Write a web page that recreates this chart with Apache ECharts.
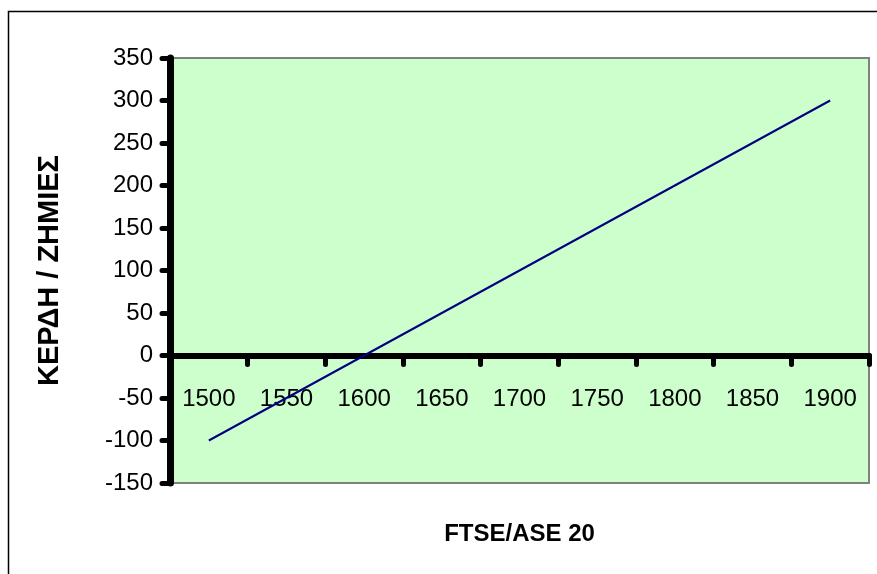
<!DOCTYPE html>
<html>
<head>
<meta charset="utf-8">
<script src="https://cdn.jsdelivr.net/npm/echarts@6/dist/echarts.min.js"></script>
<style>
  html, body { margin: 0; padding: 0; background: #fff; }
  #chart { width: 877px; height: 574px; }
</style>
</head>
<body>
<div id="chart"></div>
<script>
  // FTSE/ASE 20 levels and profit / loss
  var indexLevels = ['1500', '1550', '1600', '1650', '1700', '1750', '1800', '1850', '1900'];
  var profitLoss = [-100, -50, 0, 50, 100, 150, 200, 250, 300];
  var yMin = -150, yMax = 350;

  var font = "'Liberation Sans', Arial, sans-serif";
  var gridTop = 58, gridHeight = 425;
  // move the category axis up to the y = 0 line
  var zeroOffset = gridHeight * (0 - yMin) / (yMax - yMin);

  var chart = echarts.init(document.getElementById('chart'));
  chart.setOption({
    animation: false,
    backgroundColor: '#ffffff',
    graphic: [{
      type: 'rect',
      shape: { x: 8.5, y: 11.5, width: 900, height: 600 },
      style: { fill: 'none', stroke: '#000', lineWidth: 1.5 },
      silent: true
    }],
    grid: {
      left: 170,
      top: gridTop,
      width: 699,
      height: gridHeight,
      show: true,
      backgroundColor: '#CCFFCC',
      borderColor: '#808080',
      borderWidth: 2,
      outerBoundsMode: 'none'
    },
    xAxis: {
      type: 'category',
      data: indexLevels,
      boundaryGap: true,
      position: 'bottom',
      offset: -zeroOffset,
      name: 'FTSE/ASE 20',
      nameLocation: 'middle',
      nameGap: 167,
      nameMoveOverlap: false,
      nameTextStyle: {
        fontFamily: font,
        fontWeight: 'bold',
        fontSize: 24,
        color: '#000'
      },
      axisLine: {
        onZero: false,
        lineStyle: { color: '#000', width: 6 }
      },
      axisTick: {
        show: true,
        interval: 0,
        length: 9,
        lineStyle: { color: '#000', width: 5, cap: 'round' }
      },
      axisLabel: {
        interval: 0,
        margin: 32,
        fontFamily: font,
        fontSize: 24,
        color: '#000'
      },
      splitLine: { show: false }
    },
    yAxis: {
      type: 'value',
      min: yMin,
      max: yMax,
      interval: 50,
      name: 'ΚΕΡΔΗ / ΖΗΜΙΕΣ',
      nameLocation: 'middle',
      nameGap: 106,
      nameRotate: 90,
      nameTextStyle: {
        fontFamily: font,
        fontWeight: 'bold',
        fontSize: 29,
        color: '#000'
      },
      axisLine: {
        show: true,
        onZero: false,
        lineStyle: { color: '#000', width: 7 }
      },
      axisTick: {
        show: true,
        length: 8,
        lineStyle: { color: '#000', width: 5, cap: 'round' }
      },
      axisLabel: {
        margin: 17,
        fontFamily: font,
        fontSize: 24,
        color: '#000'
      },
      splitLine: { show: false }
    },
    series: [{
      type: 'line',
      data: profitLoss,
      symbol: 'none',
      lineStyle: { color: '#000080', width: 2 },
      z: 1
    }]
  });
</script>
</body>
</html>
